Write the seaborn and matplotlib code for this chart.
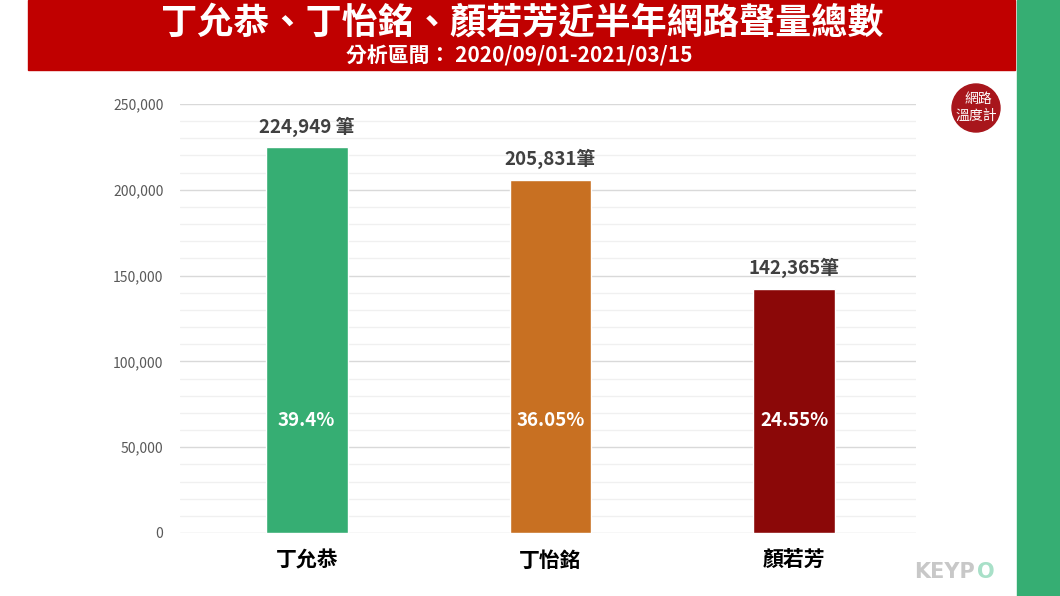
import matplotlib
matplotlib.use("Agg")
import matplotlib.pyplot as plt
import seaborn as sns
import pandas as pd
from matplotlib.patches import Rectangle, Ellipse
from matplotlib.ticker import MultipleLocator, FuncFormatter

names = ["丁允恭", "丁怡銘", "顏若芳"]
counts = [224949, 205831, 142365]
count_labels = ["224,949 筆", "205,831筆", "142,365筆"]
shares = ["39.4%", "36.05%", "24.55%"]
colors = ["#36AE73", "#C87022", "#8B0808"]

title = "丁允恭、丁怡銘、顏若芳近半年網路聲量總數"
subtitle = "分析區間： 2020/09/01-2021/03/15"

sns.set_theme(style="white")
plt.rcParams["font.family"] = ["Noto Sans CJK TC", "DejaVu Sans"]

df = pd.DataFrame({"name": names, "count": counts})

fig = plt.figure(figsize=(10.6, 5.96), dpi=100)
fig.patch.set_facecolor("white")

# header banner and right strip
fig.patches.append(Rectangle((28 / 1060, 1 - 70 / 596), 987 / 1060, 70 / 596,
                             transform=fig.transFigure, color="#C00000", zorder=0))
fig.patches.append(Rectangle((1017 / 1060, 0), 43 / 1060, 1,
                             transform=fig.transFigure, color="#36AE73", zorder=0))
fig.text(522 / 1060, 1 - 23 / 596, title, color="white", fontsize=26,
         fontweight="bold", ha="center", va="center")
fig.text(519 / 1060, 1 - 56 / 596, subtitle, color="white", fontsize=15,
         fontweight="bold", ha="center", va="center")

ax = fig.add_axes([180 / 1060, 63 / 596, 736 / 1060, 429 / 596])
sns.barplot(data=df, x="name", y="count", hue="name", palette=colors,
            width=0.335, legend=False, ax=ax, saturation=1)

ax.set_ylim(0, 250000)
ax.set_xlim(-0.52, 2.5)
ax.yaxis.set_major_locator(MultipleLocator(50000))
ax.yaxis.set_minor_locator(MultipleLocator(10000))
ax.yaxis.set_major_formatter(FuncFormatter(lambda v, p: f"{int(v):,}"))
ax.grid(axis="y", which="major", color="#D9D9D9", linewidth=1)
ax.grid(axis="y", which="minor", color="#F0F0F0", linewidth=1)
ax.set_axisbelow(True)
for s in ax.spines.values():
    s.set_visible(False)
ax.set_xlabel("")
ax.set_ylabel("")
ax.tick_params(axis="y", which="both", length=0, labelsize=10, labelcolor="#595959", pad=12)
ax.tick_params(axis="x", length=0, labelsize=15, labelcolor="black", pad=12)
for t in ax.get_xticklabels():
    t.set_fontweight("bold")

for i, (c, lab, sh) in enumerate(zip(counts, count_labels, shares)):
    ax.text(i, c + 6000, lab, ha="center", va="bottom", fontsize=13.5,
            fontweight="bold", color="#404040")
    ax.text(i, 65500, sh, ha="center", va="center", fontsize=13.5,
            fontweight="bold", color="white")

# logos
fig.patches.append(Ellipse((976 / 1060, 1 - 108 / 596), 48 / 1060, 48 / 596,
                           transform=fig.transFigure, color="#A8161C", zorder=3))
fig.text(978 / 1060, 1 - 99 / 596, "網路", color="white", fontsize=10,
         ha="center", va="center", zorder=4)
fig.text(976 / 1060, 1 - 116 / 596, "溫度計", color="white", fontsize=10,
         ha="center", va="center", zorder=4)
fig.text(945 / 1060, 1 - 572 / 596, "KEYP", color="#C8C8C8", fontsize=15,
         fontweight="bold", ha="center", va="center", family="DejaVu Sans")
fig.text(986 / 1060, 1 - 572 / 596, "O", color="#A8E0C8", fontsize=15,
         fontweight="bold", ha="center", va="center", family="DejaVu Sans")

fig.savefig("out.png", dpi=100)
